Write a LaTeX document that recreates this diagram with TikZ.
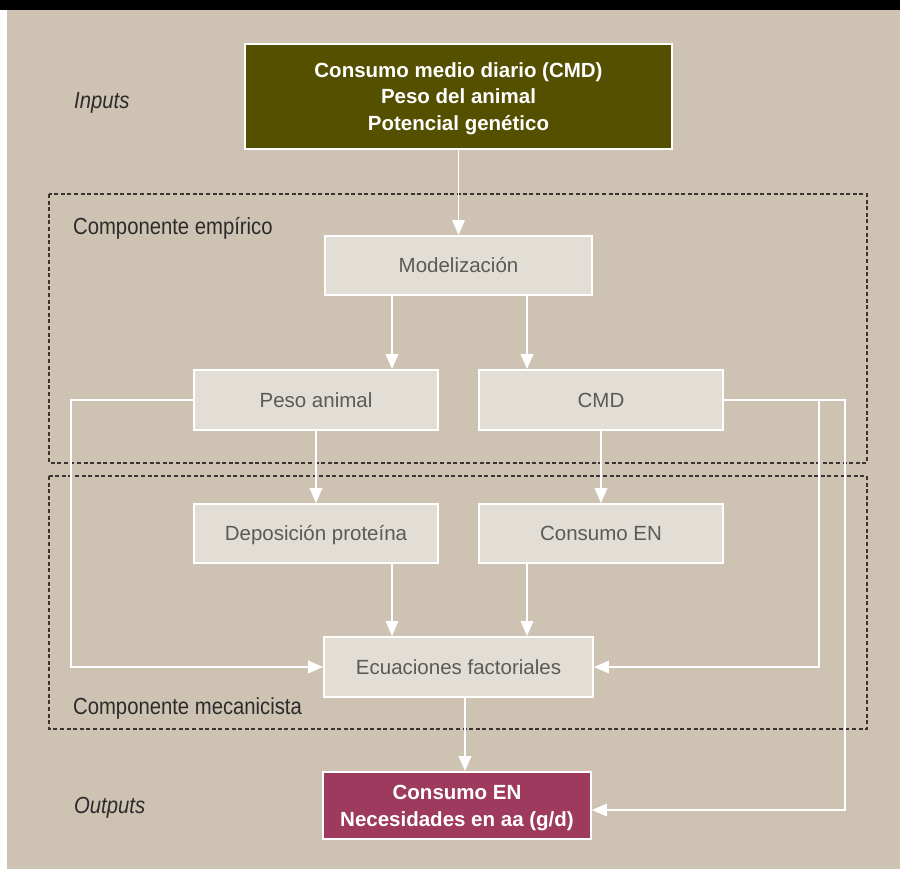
\documentclass[tikz,border=0pt]{standalone}
\usepackage{fontspec}
\setmainfont{Liberation Sans}
\newfontfamily\condfont[FakeStretch=0.87]{Liberation Sans}
\usetikzlibrary{arrows.meta,calc}
\definecolor{bgbeige}{HTML}{CEC3B2}
\definecolor{lightbox}{HTML}{E3DED5}
\definecolor{olivebox}{HTML}{555000}
\definecolor{outbox}{HTML}{9E3A5E}
\definecolor{boxtext}{HTML}{5A5A5A}
\definecolor{labeltext}{HTML}{2B2B2B}
\definecolor{dashcol}{HTML}{3A3530}
\begin{document}
\begin{tikzpicture}[x=1pt,y=-1pt,
  lbox/.style={draw=white, line width=1.9pt, fill=lightbox, inner sep=0pt,
    text=boxtext, font=\fontsize{20.5}{24}\selectfont,
    text height=14.7pt, text depth=0pt, minimum width=244pt, minimum height=60pt},
  darkbox/.style={draw=white, line width=1.9pt, inner sep=0pt, text=white, align=center,
    font=\bfseries\fontsize{20.5}{26.5}\selectfont, text depth=0pt},
  lbl/.style={inner sep=0pt, text=labeltext, font=\condfont\fontsize{23.3}{28}\selectfont},
  conn/.style={draw=white, line width=1.9pt},
  arr/.style={conn, -{Triangle[length=15pt,width=12.5pt]}},
  dashbox/.style={draw=dashcol, line width=1.1pt, dash pattern=on 4pt off 2.6pt}
]
\useasboundingbox (0,0) rectangle (900,868);
\fill[white] (0,0) rectangle (900,868);
\fill[bgbeige] (7,10) rectangle (905,875);
\fill[black] (0,0) rectangle (900,10);

% dashed frames
\draw[dashbox] (49,194) rectangle (867,463);
\draw[dashbox] (49,476) rectangle (867,729);

% labels
\node[lbl, anchor=base west] (linp) at (74,108) {\itshape Inputs};
\node[lbl, anchor=base west] (lout) at (74,813) {\itshape Outputs};
\node[lbl, anchor=base west] (lemp) at (73,234) {Componente empírico};
\node[lbl, anchor=base west] (lmec) at (73,714) {Componente mecanicista};

% boxes
\node[darkbox, fill=olivebox, minimum width=427pt, minimum height=105pt, text height=67.7pt]
  (inp) at (458.5,96.5) {Consumo medio diario (CMD)\\Peso del animal\\Potencial genético};
\node[lbox, minimum width=267pt, minimum height=59pt] (modl) at (458.5,265.5) {Modelización};
\node[lbox] (peso) at (316,400) {Peso animal};
\node[lbox] (cmd) at (601,400) {CMD};
\node[lbox, minimum height=59pt] (depo) at (316,533.5) {Deposición proteína};
\node[lbox, minimum height=59pt] (cons) at (601,533.5) {Consumo EN};
\node[lbox, minimum width=269pt] (ecu) at (458.5,667) {Ecuaciones factoriales};
\node[darkbox, fill=outbox, minimum width=268pt, minimum height=67pt, text height=41.7pt]
  (outp) at (457,805.5) {Consumo EN\\Necesidades en aa (g/d)};

% column coordinates
\coordinate (xa) at (458.5,0);
\coordinate (xb) at (392,0);
\coordinate (xc) at (527,0);
\coordinate (xd) at (465,0);
\coordinate (cL) at (71,667);
\coordinate (cR) at (845,810);
\coordinate (cB1) at (819,400);
\coordinate (cB2) at (819,667);

% connectors
\draw[arr] (inp.south -| xa) -- (modl.north -| xa);
\draw[arr] (modl.south -| xb) -- (peso.north -| xb);
\draw[arr] (modl.south -| xc) -- (cmd.north -| xc);
\draw[arr] (peso.south) -- (depo.north);
\draw[arr] (cmd.south) -- (cons.north);
\draw[arr] (depo.south -| xb) -- (ecu.north -| xb);
\draw[arr] (cons.south -| xc) -- (ecu.north -| xc);
\draw[arr] (ecu.south -| xd) -- (outp.north -| xd);
\draw[arr] (peso.west) -| (cL) -- (ecu.west |- cL);
\draw[arr] (cmd.east) -| (cR) -- (outp.east |- cR);
\draw[arr] (cB1) -- (cB2) -- (ecu.east |- cB2);
\end{tikzpicture}
\end{document}
